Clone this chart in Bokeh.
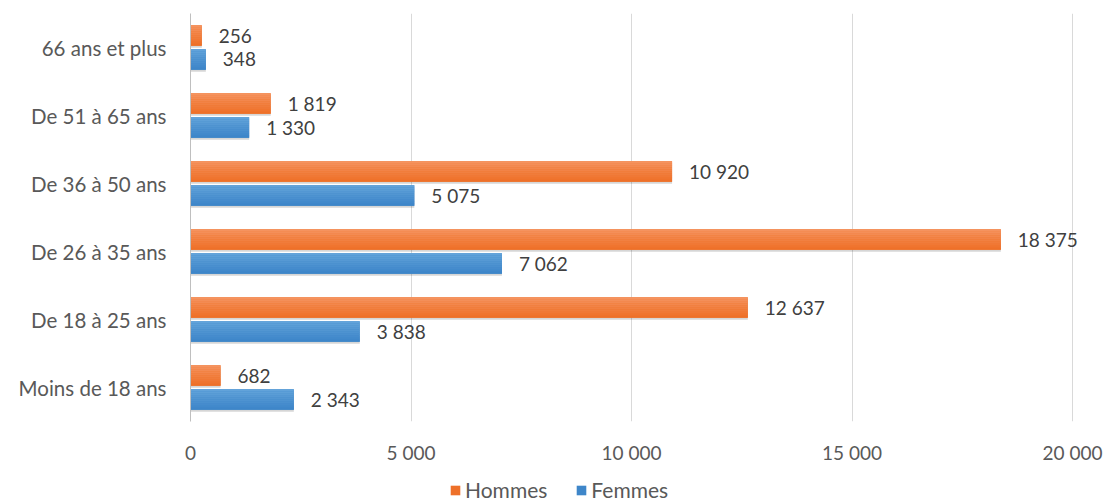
from bokeh.plotting import figure
from bokeh.layouts import column
from bokeh.models import (FactorRange, Range1d, FixedTicker, Legend, LegendItem,
                          ColumnDataSource, CustomJSTickFormatter)
from bokeh.transform import dodge
from bokeh.core.properties import value
from bokeh.embed import file_html
from bokeh.resources import INLINE

categories = ["Moins de 18 ans", "De 18 à 25 ans", "De 26 à 35 ans",
              "De 36 à 50 ans", "De 51 à 65 ans", "66 ans et plus"]
hommes = [682, 12637, 18375, 10920, 1819, 256]
femmes = [2343, 3838, 7062, 5075, 1330, 348]
series_names = ["Hommes", "Femmes"]
x_ticks = [0, 5000, 10000, 15000, 20000]

FONT = "Lato"
TXT = "#404040"
TXT2 = "#595959"
C_H = ("#F5935F", "#EE7029")
C_F = ("#62A3DA", "#3E86C9")

def fmt(v):
    return f"{v:,}".replace(",", " ")

# frame runs to the right edge so value labels are not clipped; 20 000 sits at x=1072
X_END = 20000 * 919 / 882

p = figure(width=1109, height=470, output_backend="svg", toolbar_location=None,
           y_range=FactorRange(factors=categories), x_range=Range1d(0, X_END),
           min_border_left=190, min_border_right=0, min_border_top=13, min_border_bottom=49)
p.outline_line_color = None

BH = 0.30
OFF = 0.176

src = ColumnDataSource(dict(cat=categories, h=hommes, f=femmes,
                            hl=[fmt(v) for v in hommes], fl=[fmt(v) for v in femmes]))

def mix(a, b, t):
    a = [int(a[i:i+2], 16) for i in (1, 3, 5)]
    b = [int(b[i:i+2], 16) for i in (1, 3, 5)]
    return "#%02x%02x%02x" % tuple(round(a[k] + (b[k] - a[k]) * t) for k in range(3))

def bars(field, off, c_top, c_bot):
    p.hbar(y=dodge("cat", off - 0.03, range=p.y_range), right=field, left=0, height=BH,
           source=src, fill_color="#000000", fill_alpha=0.16, line_color=None)
    p.hbar(y=dodge("cat", off, range=p.y_range), right=field, left=0, height=BH,
           source=src, fill_color=c_bot, line_color=None)
    n = 10
    sh = BH / n
    for i in range(n):
        t = i / (n - 1)
        yo = off + BH / 2 - sh * (i + 0.5)
        p.hbar(y=dodge("cat", yo, range=p.y_range), right=field, left=0, height=sh * 1.05,
               source=src, fill_color=mix(c_top, c_bot, t), line_color=None)

bars("h", OFF, *C_H)
bars("f", -OFF, *C_F)

for field, lab, off in (("h", "hl", OFF), ("f", "fl", -OFF)):
    p.text(x=field, y=dodge("cat", off, range=p.y_range), text=lab, source=src,
           x_offset=17, text_baseline="middle", text_font=value(FONT),
           text_font_size="19px", text_color=TXT)

p.xgrid.ticker = FixedTicker(ticks=x_ticks)
p.xgrid.grid_line_color = "#D9D9D9"
p.ygrid.grid_line_color = None

xa = p.xaxis[0]
xa.ticker = FixedTicker(ticks=x_ticks)
xa.formatter = CustomJSTickFormatter(
    code="return Math.round(tick).toString().replace(/\\B(?=(\\d{3})+(?!\\d))/g, ' ');")
xa.axis_line_color = None
xa.major_tick_line_color = None
xa.minor_tick_line_color = None
xa.major_label_text_font = FONT
xa.major_label_text_font_size = "19px"
xa.major_label_text_color = TXT2
xa.major_label_standoff = 13

ya = p.yaxis[0]
ya.axis_line_color = "#BFBFBF"
ya.major_tick_line_color = None
ya.minor_tick_line_color = None
ya.major_label_text_font = FONT
ya.major_label_text_font_size = "20.5px"
ya.major_label_text_color = TXT2
ya.major_label_standoff = 18

# legend strip
pl = figure(width=1109, height=32, output_backend="svg", toolbar_location=None,
            x_range=Range1d(0, 1), y_range=Range1d(0, 1),
            min_border_left=190, min_border_right=0, min_border_top=0, min_border_bottom=0)
pl.outline_line_color = None
pl.axis.visible = False
pl.grid.grid_line_color = None
off_src = ColumnDataSource(dict(y=[-5], r=[-5]))
lr_h = pl.hbar(y="y", right="r", height=1, source=off_src, fill_color=C_H[1], line_color=None)
lr_f = pl.hbar(y="y", right="r", height=1, source=off_src, fill_color=C_F[1], line_color=None)
legend = Legend(items=[LegendItem(label=series_names[0], renderers=[lr_h]),
                       LegendItem(label=series_names[1], renderers=[lr_f])],
                orientation="horizontal", location=(259, 0),
                label_text_font=FONT, label_text_font_size="21px", label_text_color=TXT2,
                glyph_width=12, glyph_height=12, label_standoff=4, spacing=28,
                padding=0, margin=0, border_line_color=None, background_fill_alpha=0)
pl.add_layout(legend, "center")

layout = column(p, pl, spacing=0)
open("out.html", "w").write(file_html(layout, INLINE))
